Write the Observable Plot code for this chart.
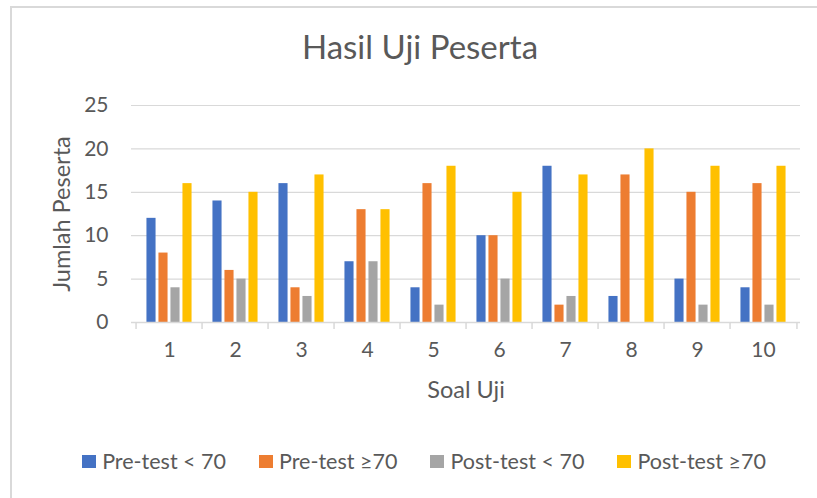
<!DOCTYPE html>
<html>
<head>
<meta charset="utf-8">
<script src="https://cdn.jsdelivr.net/npm/d3@7"></script>
<script src="https://cdn.jsdelivr.net/npm/@observablehq/plot@0.6"></script>
<style>
  html, body { margin: 0; padding: 0; background: #fff; overflow: hidden; }
  #wrap { position: relative; width: 817px; height: 498px; overflow: hidden; font-family: Lato, "Open Sans", sans-serif; color: #595959; }
  #border { position: absolute; left: 10px; top: 6px; width: 900px; height: 600px; border-left: 2px solid #d9d9d9; border-top: 2px solid #d9d9d9; }
  #title { position: absolute; left: 0; width: 840px; top: 30px; text-align: center; font-size: 33px; line-height: 33px; }
  #chart { position: absolute; left: 0; top: 0; }
  #legend { position: absolute; left: 30px; width: 788px; top: 451px; display: flex; justify-content: center; gap: 33px; font-size: 21.5px; line-height: 21.5px; }
  .item { display: flex; align-items: center; gap: 6px; white-space: nowrap; }
  .sw { width: 14px; height: 13px; display: inline-block; }
</style>
</head>
<body>
<div id="wrap">
  <div id="border"></div>
  <div id="title"></div>
  <div id="chart"></div>
  <div id="legend"></div>
</div>
<script>
const titleText = "Hasil Uji Peserta";
const yLabel = "Jumlah Peserta";
const xLabel = "Soal Uji";
const soal = ["1", "2", "3", "4", "5", "6", "7", "8", "9", "10"];
const seriesNames = ["Pre-test < 70", "Pre-test \u226570", "Post-test < 70", "Post-test \u226570"];
const seriesColors = ["#4472C4", "#ED7D31", "#A5A5A5", "#FFC000"];
const preBelow70 = [12, 14, 16, 7, 4, 10, 18, 3, 5, 4];
const preAbove70 = [8, 6, 4, 13, 16, 10, 2, 17, 15, 16];
const postBelow70 = [4, 5, 3, 7, 2, 5, 3, 0, 2, 2];
const postAbove70 = [16, 15, 17, 13, 18, 15, 17, 20, 18, 18];
const yTicks = [0, 5, 10, 15, 20, 25];

const seriesValues = [preBelow70, preAbove70, postBelow70, postAbove70];
const rows = soal.map((s, i) => ({soal: s, v: seriesValues.map(arr => arr[i])}));

document.getElementById("title").textContent = titleText;

const W = 817, H = 420;
const mL = 131, mR = 17, mT = 105, mB = 98;
const band = (W - mL - mR) / soal.length;
const barW = 10, barStep = 12, firstOff = (band - (barStep * 3 + barW)) / 2;

const barMarks = seriesValues.map((_, k) => Plot.barY(rows, {
  x: "soal",
  y: d => d.v[k],
  fill: seriesColors[k],
  insetLeft: firstOff + barStep * k,
  insetRight: band - (firstOff + barStep * k + barW)
}));

const chart = Plot.plot({
  width: W,
  height: H,
  marginLeft: mL,
  marginRight: mR,
  marginTop: mT,
  marginBottom: mB,
  style: {fontFamily: "Lato, 'Open Sans', sans-serif", fontSize: "21px", color: "#595959", background: "transparent", overflow: "visible"},
  x: {type: "band", domain: soal, padding: 0},
  y: {domain: [0, 25]},
  marks: [
    Plot.gridY(yTicks.filter(t => t > 0), {stroke: "#d9d9d9", strokeOpacity: 1, strokeWidth: 1.2}),
    Plot.axisY({ticks: yTicks, tickSize: 0, tickPadding: 23, label: null, fill: "#595959"}),
    Plot.axisX({tickSize: 0, tickPadding: 20, label: null, fill: "#595959"}),
    ...barMarks,
    Plot.ruleY([0], {stroke: "#d9d9d9", strokeWidth: 1.5}),
    Plot.ruleX(soal, {x: d => d, y1: 0, y2: -0.8, dx: -band / 2, stroke: "#d9d9d9", strokeWidth: 1.5}),
    Plot.ruleX(soal.slice(-1), {x: d => d, y1: 0, y2: -0.8, dx: band / 2, stroke: "#d9d9d9", strokeWidth: 1.5}),
    Plot.text([yLabel], {text: d => d, frameAnchor: "left", textAnchor: "middle", lineAnchor: "middle", rotate: -90, dx: -69, fontSize: 23.5, fill: "#595959"}),
    Plot.text([xLabel], {text: d => d, frameAnchor: "bottom", lineAnchor: "middle", dy: 68, fontSize: 23.5, fill: "#595959"})
  ]
});
document.getElementById("chart").appendChild(chart);

const legend = document.getElementById("legend");
seriesNames.forEach((name, k) => {
  const item = document.createElement("div");
  item.className = "item";
  const sw = document.createElement("span");
  sw.className = "sw";
  sw.style.background = seriesColors[k];
  const label = document.createElement("span");
  label.textContent = name;
  item.appendChild(sw);
  item.appendChild(label);
  legend.appendChild(item);
});
</script>
</body>
</html>
